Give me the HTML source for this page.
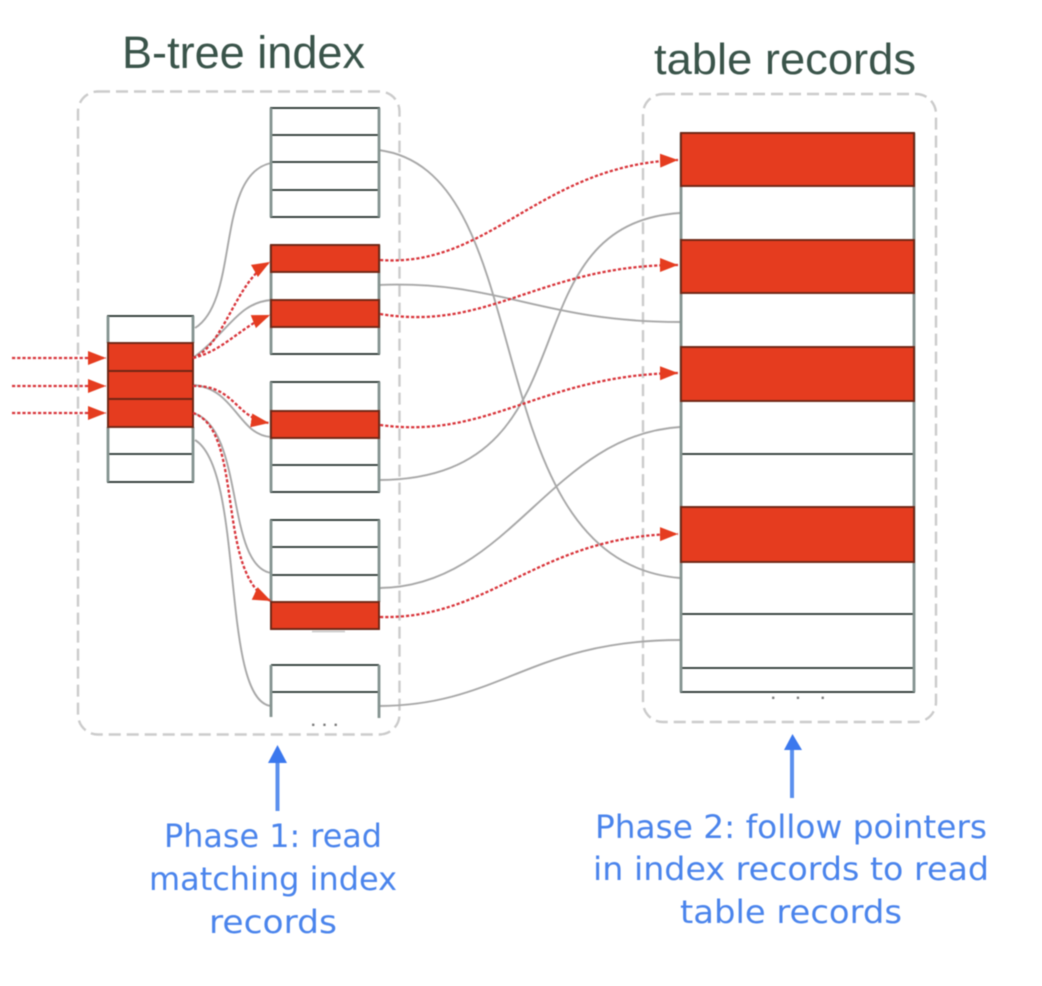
<!DOCTYPE html>
<html>
<head>
<meta charset="utf-8">
<style>
html,body{margin:0;padding:0;background:#fff;width:1042px;height:986px;overflow:hidden}
svg{display:block;filter:blur(0.6px)}
.t{font-family:"Liberation Sans",sans-serif;fill:#3a544a}
.h{font-family:"DejaVu Sans","Liberation Sans",sans-serif;fill:#4a84ec;font-size:32px}
.b{fill:#fff;stroke:#26332f;stroke-width:1.8}
.l{fill:none;stroke:#26332f;stroke-width:1.8}
.v{fill:none;stroke:#84938f;stroke-width:2.8}
.r{fill:#e53c1f;stroke:#6e2615;stroke-width:1.9}
.g{fill:none;stroke:#a8a8a8;stroke-width:1.9}
.d{fill:none;stroke:#d8343a;stroke-width:2.3;stroke-dasharray:3.2 2;marker-end:url(#a)}
.f{fill:none;stroke:#cbcbcb;stroke-width:2.4;stroke-dasharray:12 6}
.o{font-family:"Liberation Sans",sans-serif;font-size:16px;font-weight:bold;fill:#777}
</style>
</head>
<body>
<svg width="1042" height="986" viewBox="0 0 1042 986">
<defs>
<marker id="a" markerUnits="userSpaceOnUse" markerWidth="20" markerHeight="16" refX="18" refY="8" orient="auto">
<path d="M0,1 L18,8 L0,15 Z" fill="#e53c1f"/>
</marker>
</defs>

<text class="t" x="122" y="68" font-size="45" textLength="243" lengthAdjust="spacingAndGlyphs">B-tree index</text>
<text class="t" x="654" y="74" font-size="44" textLength="262" lengthAdjust="spacingAndGlyphs">table records</text>

<rect class="f" x="78" y="91.5" width="321.5" height="643" rx="20"/>
<rect class="f" x="643" y="94" width="293" height="628" rx="20"/>

<!-- grey connectors -->
<path class="g" d="M195,328 C240,300 215,175 271,163"/>
<path class="g" d="M193,358 C230,330 238,303 271,300"/>
<path class="g" d="M193,385 C235,388 238,435 271,437"/>
<path class="g" d="M193,413 C245,428 225,565 271,573"/>
<path class="g" d="M195,440 C245,470 220,700 271,706"/>
<path class="g" d="M378,150 C545,170 470,560 680,578"/>
<path class="g" d="M378,285 C500,280 540,322 680,322"/>
<path class="g" d="M378,480 C600,480 500,225 680,213"/>
<path class="g" d="M378,588 C510,588 550,435 680,427"/>
<path class="g" d="M378,706 C500,706 530,640 680,640"/>

<!-- left node -->
<rect class="b" x="108" y="316" width="85" height="166"/>
<path class="l" d="M108,454H193"/>
<path class="v" d="M108,316V343M193,316V343M108,427V482M193,427V482"/>
<rect class="r" x="108" y="343" width="85" height="28"/>
<rect class="r" x="108" y="371" width="85" height="28"/>
<rect class="r" x="108" y="399" width="85" height="28"/>

<!-- node 1 -->
<rect class="b" x="271" y="108" width="108" height="109"/>
<path class="l" d="M271,135H379M271,162H379M271,190H379"/>
<path class="v" d="M271,108V217M379,108V217"/>
<!-- node 2 -->
<rect class="b" x="271" y="245" width="108" height="109"/>
<path class="v" d="M271,245V354M379,245V354"/>
<rect class="r" x="271" y="245" width="108" height="27"/>
<rect class="r" x="271" y="300" width="108" height="27"/>
<!-- node 3 -->
<rect class="b" x="271" y="382" width="108" height="110"/>
<path class="l" d="M271,465H379"/>
<path class="v" d="M271,382V492M379,382V492"/>
<rect class="r" x="271" y="411" width="108" height="27"/>
<!-- node 4 -->
<rect class="b" x="271" y="520" width="108" height="109"/>
<path class="l" d="M271,547H379M271,575H379"/>
<path class="v" d="M271,520V602M379,520V602"/>
<rect class="r" x="271" y="602" width="108" height="27"/>
<path d="M312,631.5H345" stroke="#c4c4c4" stroke-width="1.4" fill="none"/>
<!-- node 5 -->
<path class="l" d="M271,665H379M271,692H379"/>
<path class="v" d="M271,665V717M379,665V718"/>
<text class="o" x="311" y="726" textLength="27" lengthAdjust="spacing">. . .</text>

<!-- table -->
<rect class="b" x="681" y="133" width="233" height="559"/>
<path class="l" d="M681,454H914M681,614H914M681,668H914"/>
<path class="v" d="M681,133V692M914,133V692"/>
<rect class="r" x="681" y="133" width="233" height="53"/>
<rect class="r" x="681" y="240" width="233" height="53"/>
<rect class="r" x="681" y="347" width="233" height="54"/>
<rect class="r" x="681" y="507" width="233" height="55"/>
<text class="o" x="771" y="699" textLength="54" lengthAdjust="spacing">. . .</text>

<!-- red dashed -->
<path class="d" d="M12,358H106"/>
<path class="d" d="M12,386H106"/>
<path class="d" d="M12,413H106"/>
<path class="d" d="M193,358 C225,345 235,282 270,262"/>
<path class="d" d="M193,358 C225,350 240,327 270,315"/>
<path class="d" d="M193,386 C235,385 235,418 269,423"/>
<path class="d" d="M193,413 C245,430 215,575 271,601"/>
<path class="d" d="M380,260 C490,268 540,165 678,160"/>
<path class="d" d="M380,314 C490,332 540,265 678,265"/>
<path class="d" d="M380,425 C490,440 540,375 678,373"/>
<path class="d" d="M380,617 C490,620 540,535 678,534"/>

<!-- blue arrows -->
<path d="M277.5,811V760" stroke="#5b90ee" stroke-width="4" fill="none"/>
<path d="M277.5,745 L268,763 H287 Z" fill="#3b78ee"/>
<path d="M792,798V748" stroke="#5b90ee" stroke-width="4" fill="none"/>
<path d="M792.5,734 L784,750 H802 Z" fill="#3b78ee"/>

<text class="h" x="273" y="847" text-anchor="middle" textLength="218" lengthAdjust="spacingAndGlyphs">Phase 1: read</text>
<text class="h" x="273" y="890" text-anchor="middle" textLength="248" lengthAdjust="spacingAndGlyphs">matching index</text>
<text class="h" x="273" y="933" text-anchor="middle" textLength="128" lengthAdjust="spacingAndGlyphs">records</text>
<text class="h" x="791" y="838" text-anchor="middle" textLength="392" lengthAdjust="spacingAndGlyphs">Phase 2: follow pointers</text>
<text class="h" x="791" y="880" text-anchor="middle" textLength="396" lengthAdjust="spacingAndGlyphs">in index records to read</text>
<text class="h" x="791" y="923" text-anchor="middle" textLength="222" lengthAdjust="spacingAndGlyphs">table records</text>
</svg>
</body>
</html>
